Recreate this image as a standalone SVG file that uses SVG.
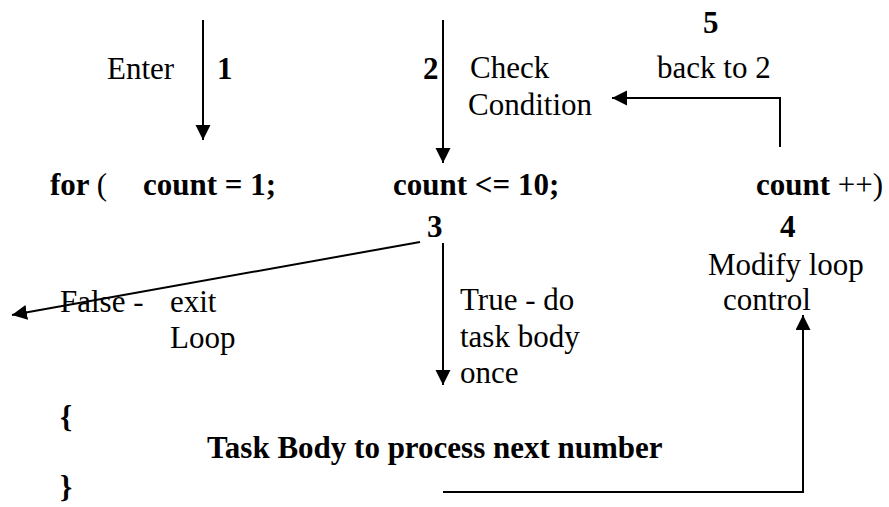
<svg xmlns="http://www.w3.org/2000/svg" width="889" height="507" viewBox="0 0 889 507">
  <style>
    text { font-family: "Liberation Serif", "Times New Roman", serif; font-size: 31px; font-weight: normal; fill: #000; }
    .b { font-weight: bold; }
    .n { font-weight: normal; }
    .wire { fill: none; stroke: #000; stroke-width: 2; }
  </style>
  <defs>
    <marker id="head" markerUnits="userSpaceOnUse" markerWidth="16" markerHeight="16" refX="15" refY="7.5" orient="auto">
      <path d="M0,0 L15,7.5 L0,15 z" fill="#000"/>
    </marker>
  </defs>
  <rect width="889" height="507" fill="#fff"/>

  <!-- for-statement header -->
  <g id="init">
    <text x="50" y="195" class="b">for <tspan class="n">(</tspan></text>
    <text x="143" y="195" class="b">count = 1;</text>
  </g>
  <g id="condition">
    <text x="393" y="195" class="b">count &lt;= 10;</text>
  </g>
  <g id="update">
    <text x="756" y="195" class="b">count <tspan class="n">++)</tspan></text>
  </g>

  <!-- step labels -->
  <g id="step1">
    <text x="107" y="79">Enter</text>
    <text x="217" y="79" class="b">1</text>
  </g>
  <g id="step2">
    <text x="423" y="79" class="b">2</text>
    <text x="470" y="78">Check</text>
    <text x="468" y="115">Condition</text>
  </g>
  <g id="step3">
    <text x="427" y="237" class="b">3</text>
  </g>
  <g id="false-branch">
    <text x="60" y="312">False -</text>
    <text x="170" y="312">exit</text>
    <text x="170" y="348">Loop</text>
  </g>
  <g id="true-branch">
    <text x="460" y="310">True - do</text>
    <text x="460" y="347">task body</text>
    <text x="460" y="383">once</text>
  </g>
  <g id="step4">
    <text x="780" y="237" class="b">4</text>
    <text x="708" y="275">Modify loop</text>
    <text x="723" y="310">control</text>
  </g>
  <g id="step5">
    <text x="703" y="33" class="b">5</text>
    <text x="657" y="78">back to 2</text>
  </g>

  <!-- loop body -->
  <g id="body">
    <text x="60" y="427" class="b">{</text>
    <text x="207" y="458" class="b">Task Body to process next number</text>
    <text x="60" y="497" class="b">}</text>
  </g>

  <!-- connectors -->
  <g id="connectors">
    <line class="wire" x1="203" y1="20" x2="203" y2="140" marker-end="url(#head)"/>
    <line class="wire" x1="443" y1="20" x2="443" y2="163" marker-end="url(#head)"/>
    <path class="wire" d="M780,147 V98 H612" marker-end="url(#head)"/>
    <line class="wire" x1="443" y1="243" x2="443" y2="385" marker-end="url(#head)"/>
    <line class="wire" x1="420" y1="242" x2="12" y2="315" marker-end="url(#head)"/>
    <path class="wire" d="M443,492 H803 V315" marker-end="url(#head)"/>
  </g>
</svg>
